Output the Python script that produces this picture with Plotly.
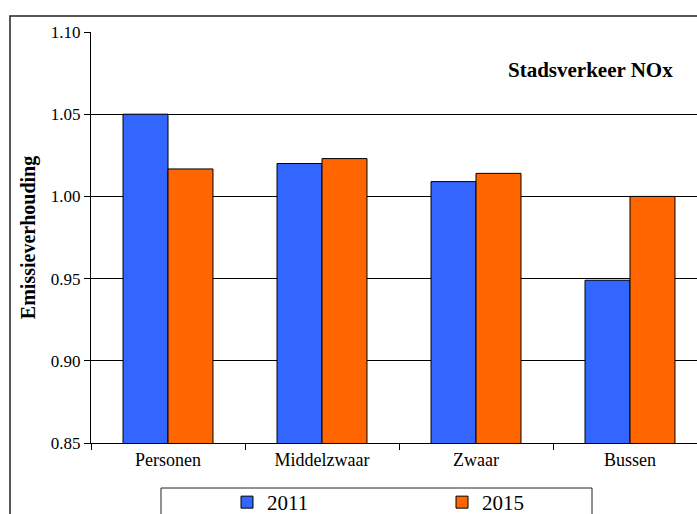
import plotly.graph_objects as go

categories = ["Personen", "Middelzwaar", "Zwaar", "Bussen"]
values_2011 = [1.050, 1.020, 1.009, 0.949]
values_2015 = [1.0167, 1.023, 1.014, 1.000]
series_names = ["2011", "2015"]
y_ticks = [0.85, 0.90, 0.95, 1.00, 1.05, 1.10]

W, H = 697, 514
L, R, T, B = 91, 0, 32, 71
pw = W - L - R
ph = H - T - B

def px_x(px):
    return (px - L) / pw

def px_y(py):
    return (H - B - py) / ph

serif = "Liberation Serif, Times New Roman, serif"

fig = go.Figure()
fig.add_trace(go.Bar(x=categories, y=values_2011, name=series_names[0],
                     marker=dict(color="#3366FF", line=dict(color="#000000", width=1))))
fig.add_trace(go.Bar(x=categories, y=values_2015, name=series_names[1],
                     marker=dict(color="#FF6600", line=dict(color="#000000", width=1))))

cat_px = 154
fig.update_layout(
    width=W, height=H,
    margin=dict(l=L, r=R, t=T, b=B, pad=0, autoexpand=False),
    paper_bgcolor="white", plot_bgcolor="white",
    barmode="group", bargap=0.416, bargroupgap=0,
    font=dict(family=serif, color="black", size=17),
    showlegend=True,
    legend=dict(orientation="h", x=px_x(227), y=px_y(482), xanchor="left", yanchor="top",
                font=dict(family=serif, size=21, color="black"),
                bgcolor="rgba(0,0,0,0)", borderwidth=0,
                itemwidth=30, entrywidth=170, traceorder="normal"),
    xaxis=dict(range=[-0.5, -0.5 + pw / cat_px], showgrid=False, showline=True,
               linecolor="black", linewidth=1, ticks="outside", tickson="boundaries",
               ticklen=6, tickcolor="black", tickfont=dict(family=serif, size=18)),
    yaxis=dict(range=[0.85, 1.10], tickvals=y_ticks, tickformat=".2f",
               showgrid=True, gridcolor="#000000", gridwidth=1,
               showline=True, linecolor="black", linewidth=1, ticks="outside",
               ticklen=6, tickcolor="black", tickfont=dict(family=serif, size=17),
               zeroline=False,
               title=dict(text="<b>Emissieverhouding</b>", standoff=9,
                          font=dict(family=serif, size=20))),
    annotations=[dict(text="<b>Stadsverkeer NOx</b>", x=px_x(590), y=px_y(70),
                      xref="paper", yref="paper", xanchor="center", yanchor="middle",
                      showarrow=False,
                      font=dict(family=serif, size=21, color="black"))],
    shapes=[
        dict(type="rect", xref="paper", yref="paper", x0=px_x(10), x1=px_x(760),
             y0=px_y(600), y1=px_y(16), line=dict(color="#222222", width=1.5)),
        dict(type="rect", xref="paper", yref="paper", x0=px_x(161), x1=px_x(592),
             y0=px_y(600), y1=px_y(488), line=dict(color="#222222", width=1)),
    ],
)

fig.write_html("out.html", config={"displayModeBar": False},
               post_script="document.body.style.margin='0';")
